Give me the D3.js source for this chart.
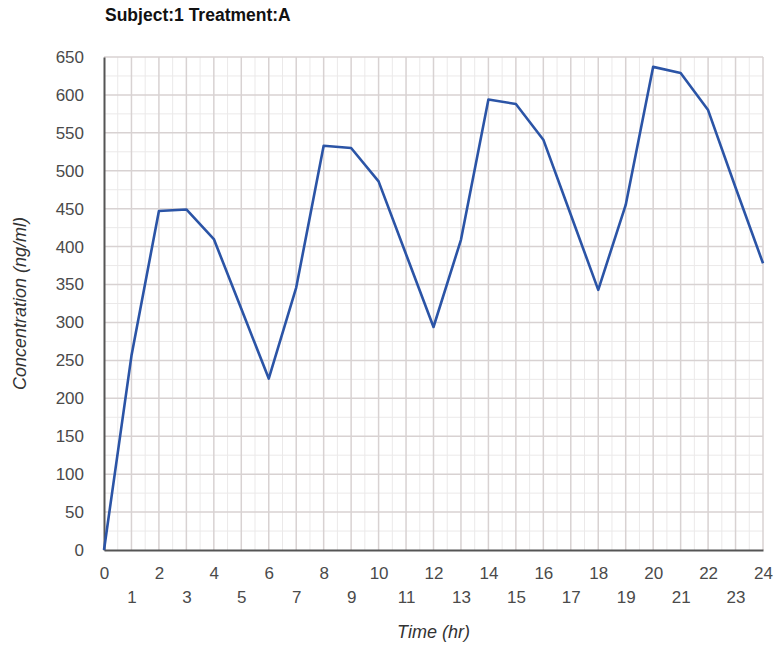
<!DOCTYPE html>
<html><head><meta charset="utf-8">
<script src="https://cdn.jsdelivr.net/npm/d3@7"></script>
<style>body{margin:0;background:#fff;} text{font-family:"Liberation Sans",Arial,sans-serif;}</style>
</head><body>
<svg id="chart" width="781" height="649"></svg>
<script>
const times = [0,1,2,3,4,5,6,7,8,9,10,11,12,13,14,15,16,17,18,19,20,21,22,23,24];
const concentration = [0,256,447,449,410,318,226,346,533,530,486,390,294,409,594,588,541,442,343,455,637,629,580,478,378];
const yTicks = [0,50,100,150,200,250,300,350,400,450,500,550,600,650];
const xTicks = times;
const title = "Subject:1 Treatment:A";
const xTitle = "Time (hr)";
const yTitle = "Concentration (ng/ml)";

const svg = d3.select("#chart");
const m = {left:104, right:763, top:57, bottom:550};
const x = d3.scaleLinear().domain([0,24]).range([m.left, m.right]);
const y = d3.scaleLinear().domain([0,650]).range([m.bottom, m.top]);
const FONT = "Liberation Sans, Arial, sans-serif";

const g = svg.append("g");
// minor grid
const minorX = d3.range(0.5,24,1);
const minorY = d3.range(25,650,50);
g.selectAll(".mx").data(minorX).enter().append("line")
  .attr("x1",d=>x(d)).attr("x2",d=>x(d)).attr("y1",m.top).attr("y2",m.bottom)
  .attr("stroke","#ebe9e9").attr("stroke-width",1);
g.selectAll(".my").data(minorY).enter().append("line")
  .attr("y1",d=>y(d)).attr("y2",d=>y(d)).attr("x1",m.left).attr("x2",m.right)
  .attr("stroke","#ebe9e9").attr("stroke-width",1);
// major grid
g.selectAll(".gx").data(xTicks.slice(1)).enter().append("line")
  .attr("x1",d=>x(d)).attr("x2",d=>x(d)).attr("y1",m.top).attr("y2",m.bottom)
  .attr("stroke","#d8d2d2").attr("stroke-width",1.5);
g.selectAll(".gy").data(yTicks.slice(1)).enter().append("line")
  .attr("y1",d=>y(d)).attr("y2",d=>y(d)).attr("x1",m.left).attr("x2",m.right)
  .attr("stroke","#d8d2d2").attr("stroke-width",1.5);

// axes
const yAxis = d3.axisLeft(y).tickValues(yTicks).tickSize(0).tickPadding(20);
const ya = svg.append("g").attr("transform",`translate(${m.left},0)`).call(yAxis);
ya.select(".domain").attr("stroke","#555").attr("stroke-width",2);
ya.selectAll("text").attr("font-size",17).attr("fill","#4a4a4a").attr("font-family",FONT);

const xAxis = d3.axisBottom(x).tickValues(xTicks).tickSize(0).tickPadding(0);
const xa = svg.append("g").attr("transform",`translate(0,${m.bottom})`).call(xAxis);
xa.select(".domain").attr("stroke","#555").attr("stroke-width",2);
xa.selectAll("text").attr("font-size",17).attr("fill","#4a4a4a").attr("font-family",FONT)
  .attr("y",(d,i)=> i%2===0 ? 29 : 53).attr("dy",null);

// line
const line = d3.line().x((d,i)=>x(times[i])).y(d=>y(d));
svg.append("path").datum(concentration).attr("d",line)
  .attr("fill","none").attr("stroke","#2b54a6").attr("stroke-width",2.6).attr("stroke-linejoin","round");

// titles
svg.append("text").attr("x",105).attr("y",21).attr("font-size",17.5).attr("font-weight","bold").attr("fill","#111").text(title);
svg.append("text").attr("x",(m.left+m.right)/2).attr("y",638).attr("text-anchor","middle")
  .attr("font-size",18).attr("font-style","italic").attr("fill","#333").text(xTitle);
svg.append("text").attr("transform",`translate(26,${(m.top+m.bottom)/2}) rotate(-90)`).attr("text-anchor","middle")
  .attr("font-size",18).attr("font-style","italic").attr("fill","#333").text(yTitle);
</script>
</body></html>
